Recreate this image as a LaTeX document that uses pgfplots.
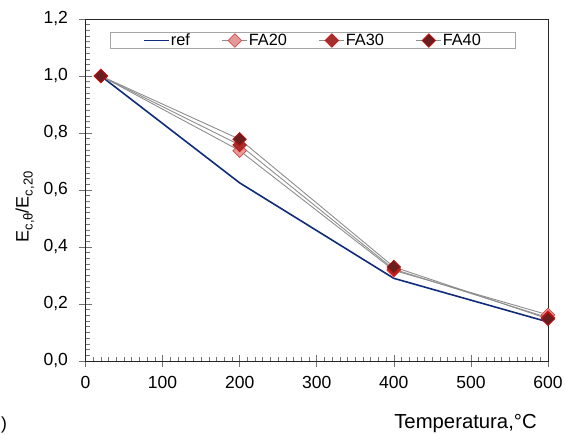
\documentclass[border=0pt]{standalone}
\usepackage{pgfplots}
\pgfplotsset{compat=1.18}
\usepackage{fontspec}
\setmainfont{Liberation Sans}
\definecolor{refblue}{HTML}{0F2B7A}
\definecolor{fatwenty}{HTML}{E59A9A}
\definecolor{fathirty}{HTML}{A3302F}
\definecolor{faforty}{HTML}{6A1E1E}
\definecolor{mkedge}{HTML}{D01010}
\definecolor{lgray}{HTML}{8E8E8E}
\newcommand{\sub}[1]{\raisebox{-0.22em}{\fontsize{13}{13}\selectfont #1}}
\begin{document}
\begin{tikzpicture}[x=1pt,y=1pt]
\path[use as bounding box] (0,0) rectangle (565,434);
\begin{axis}[
  at={(85.5pt,73pt)}, anchor=south west,
  scale only axis, width=462.5pt, height=342pt,
  xmin=0, xmax=600, ymin=0, ymax=1.2,
  xtick={0,100,...,600}, ytick={0,0.2,0.4,0.6,0.8,1.0,1.2},
  minor x tick num=9, minor y tick num=9,
  xtick pos=left, ytick pos=left,
  tick align=center,
  major tick length=12pt, minor tick length=4pt,
  every tick/.style={black!55, line width=0.6pt},
  minor x tick style={yshift=2pt},
  minor y tick style={xshift=2pt},
  axis line style={black!85, line width=0.9pt},
  font=\fontsize{17.5}{20}\selectfont,
  tick label style={font=\fontsize{17.5}{20}\selectfont},
  y tick label style={xshift=-8pt, /pgf/number format/.cd, fixed, fixed zerofill, precision=1, use comma, assume math mode=true},
  x tick label style={yshift=-6pt, /pgf/number format/.cd, fixed, precision=0, assume math mode=true, 1000 sep={}},
  legend columns=4,
  legend style={at={(0.491,0.937)}, anchor=center, draw=black!35, line width=0.6pt,
    font=\fontsize{16.3}{18}\selectfont, inner xsep=33pt, inner ysep=0.3pt, row sep=0pt,
    nodes={inner xsep=1pt, inner ysep=1pt},
    /tikz/every even column/.append style={column sep=31pt},
    /tikz/every odd column/.append style={column sep=0pt}},
  legend image code/.code={\draw[mark repeat=2, mark phase=2, #1] plot coordinates {(0pt,0pt) (12.5pt,0pt) (25pt,0pt)};},
  legend cell align=left,
]
\addplot[refblue, line width=1.6pt, no marks] coordinates {(20,1.0) (200,0.625) (400,0.29) (600,0.137)};
\addlegendentry{ref}
\addplot[lgray, line width=0.9pt, mark=square*, mark size=4.8pt, mark options={rotate=45, fill=fatwenty, draw=mkedge!60!fatwenty, line width=0.7pt}] coordinates {(20,1.0) (200,0.738) (400,0.318) (600,0.162)};
\addlegendentry{FA20}
\addplot[lgray, line width=0.9pt, mark=square*, mark size=4.8pt, mark options={rotate=45, fill=fathirty, draw=mkedge, line width=0.7pt}] coordinates {(20,1.0) (200,0.758) (400,0.322) (600,0.152)};
\addlegendentry{FA30}
\addplot[lgray, line width=0.9pt, mark=square*, mark size=4.8pt, mark options={rotate=45, fill=faforty, draw=mkedge, line width=0.7pt}] coordinates {(20,1.0) (200,0.778) (400,0.330) (600,0.148)};
\addlegendentry{FA40}
\end{axis}
\node[rotate=90, inner sep=0pt, font=\fontsize{18}{20}\selectfont] at (25,227) {E\sub{c,θ}/E\sub{c,20}};
\node[anchor=base, inner sep=0pt, font=\fontsize{20.3}{23}\selectfont] at (465.5,6) {Temperatura,°C};
\node[anchor=base west, inner sep=0pt, font=\fontsize{17.5}{20}\selectfont] at (1,5) {)};
\end{tikzpicture}
\end{document}
